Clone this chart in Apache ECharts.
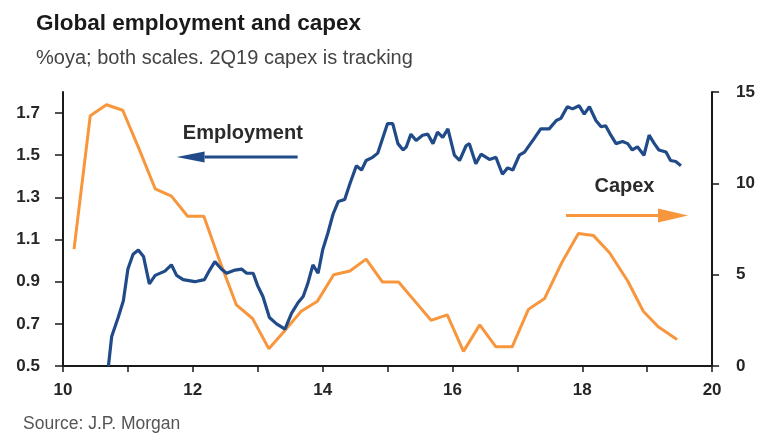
<!DOCTYPE html>
<html>
<head>
<meta charset="utf-8">
<script src="https://cdn.jsdelivr.net/npm/echarts@6/dist/echarts.min.js"></script>
<style>
  html, body { margin: 0; padding: 0; background: #fff; }
  #chart { width: 758px; height: 437px; }
</style>
</head>
<body>
<div id="chart"></div>
<script>
// x axis / tick labels
const xLabels = [10, 12, 14, 16, 18, 20]
const leftTicks = [0.5, 0.7, 0.9, 1.1, 1.3, 1.5, 1.7]
const rightTicks = [0, 5, 10, 15]

// Employment, %oya (left scale)
const empDates = [
  10.70, 10.75, 10.85, 10.93, 11.00, 11.08, 11.16, 11.24, 11.33, 11.42,
  11.57, 11.67, 11.75, 11.85, 12.03, 12.18, 12.26, 12.34, 12.44, 12.52,
  12.65, 12.75, 12.83, 12.93, 13.00, 13.08, 13.18, 13.29, 13.42, 13.52,
  13.62, 13.70, 13.77, 13.85, 13.93, 14.00, 14.08, 14.16, 14.24, 14.34,
  14.42, 14.52, 14.60, 14.67, 14.77, 14.85, 14.93, 15.00, 15.08, 15.16,
  15.24, 15.29, 15.36, 15.44, 15.54, 15.62, 15.70, 15.77, 15.85, 15.93,
  16.03, 16.11, 16.21, 16.26, 16.36, 16.44, 16.57, 16.67, 16.77, 16.85,
  16.93, 17.03, 17.11, 17.26, 17.36, 17.49, 17.60, 17.67, 17.77, 17.85,
  17.95, 18.03, 18.11, 18.21, 18.29, 18.36, 18.44, 18.52, 18.62, 18.70,
  18.77, 18.85, 18.95, 19.03, 19.11, 19.18, 19.29, 19.36, 19.44, 19.52
]
const empValues = [
  0.50, 0.64, 0.73, 0.81, 0.96, 1.03, 1.05, 1.02, 0.89, 0.93,
  0.95, 0.98, 0.93, 0.91, 0.90, 0.91, 0.955, 0.995, 0.96, 0.94,
  0.955, 0.96, 0.94, 0.94, 0.88, 0.83, 0.73, 0.70, 0.675, 0.75,
  0.80, 0.83, 0.89, 0.98, 0.94, 1.05, 1.13, 1.22, 1.28, 1.29,
  1.365, 1.45, 1.43, 1.475, 1.49, 1.51, 1.585, 1.65, 1.65, 1.555,
  1.525, 1.54, 1.60, 1.57, 1.595, 1.60, 1.555, 1.61, 1.585, 1.625,
  1.50, 1.475, 1.545, 1.555, 1.46, 1.505, 1.48, 1.49, 1.41, 1.44,
  1.43, 1.50, 1.515, 1.58, 1.625, 1.625, 1.665, 1.675, 1.73, 1.72,
  1.735, 1.695, 1.73, 1.665, 1.635, 1.64, 1.595, 1.555, 1.565, 1.555,
  1.525, 1.54, 1.50, 1.595, 1.555, 1.525, 1.515, 1.475, 1.47, 1.45
]

// Capex, %oya (right scale), quarterly
const capexDates = [
  10.17, 10.42, 10.67, 10.92, 11.17, 11.42, 11.67, 11.92, 12.17, 12.42,
  12.67, 12.92, 13.17, 13.42, 13.67, 13.92, 14.17, 14.42, 14.67, 14.92,
  15.17, 15.42, 15.67, 15.92, 16.17, 16.42, 16.67, 16.92, 17.17, 17.42,
  17.69, 17.94, 18.17, 18.42, 18.70, 18.94, 19.17, 19.46
]
const capexValues = [
  6.4, 13.7, 14.3, 14.0, 11.9, 9.7, 9.3, 8.2, 8.2, 5.7,
  3.35, 2.6, 0.95, 1.95, 3.0, 3.55, 5.0, 5.2, 5.85, 4.6,
  4.6, 3.55, 2.5, 2.8, 0.8, 2.25, 1.05, 1.05, 3.1, 3.7,
  5.7, 7.25, 7.15, 6.2, 4.65, 3.0, 2.15, 1.45
]

const BLUE = '#214b88'
const ORANGE = '#f7963d'
const AXIS = '#1a1a1a'
const FONT = 'Liberation Sans'

const chart = echarts.init(document.getElementById('chart'))

const tickLabel = { fontFamily: FONT, fontSize: 17, fontWeight: 'bold', color: '#262626' }

const option = {
  animation: false,
  title: [
    {
      text: 'Global employment and capex',
      left: 31, top: 7,
      textStyle: { fontFamily: FONT, fontSize: 22.5, fontWeight: 'bold', color: '#1a1a1a', lineHeight: 24 }
    },
    {
      text: '%oya; both scales. 2Q19 capex is tracking',
      left: 31, top: 43,
      textStyle: { fontFamily: FONT, fontSize: 20, fontWeight: 'normal', color: '#444', lineHeight: 21 }
    },
    {
      text: 'Source: J.P. Morgan',
      left: 18, top: 410,
      textStyle: { fontFamily: FONT, fontSize: 17.5, fontWeight: 'normal', color: '#555', lineHeight: 19 }
    }
  ],
  grid: { left: 63, right: 45, top: 92, bottom: 71 },
  xAxis: {
    type: 'value',
    min: 10, max: 20, interval: 1,
    splitLine: { show: false },
    axisLine: { lineStyle: { color: AXIS, width: 2 } },
    axisTick: { length: 6, lineStyle: { color: AXIS, width: 1.5 } },
    axisLabel: { customValues: xLabels, margin: 16, ...tickLabel }
  },
  yAxis: [
    {
      type: 'value',
      min: 0.5, max: 1.8, interval: 0.2,
      splitLine: { show: false },
      axisLine: { show: true, lineStyle: { color: AXIS, width: 2 } },
      axisTick: { show: true, customValues: leftTicks, length: 8, lineStyle: { color: AXIS, width: 1.5 } },
      axisLabel: {
        customValues: leftTicks,
        formatter: v => v.toFixed(1),
        margin: 23,
        ...tickLabel
      }
    },
    {
      type: 'value',
      min: 0, max: 15, interval: 5,
      position: 'right',
      splitLine: { show: false },
      axisLine: { show: true, lineStyle: { color: AXIS, width: 2 } },
      axisTick: { show: true, customValues: rightTicks, length: 7, lineStyle: { color: AXIS, width: 1.5 } },
      axisLabel: { customValues: rightTicks, margin: 24, ...tickLabel }
    }
  ],
  series: [
    {
      name: 'Capex',
      type: 'line',
      yAxisIndex: 1,
      showSymbol: false,
      lineStyle: { color: ORANGE, width: 3 },
      itemStyle: { color: ORANGE },
      data: capexDates.map((d, i) => [d, capexValues[i]]),
      z: 2
    },
    {
      name: 'Employment',
      type: 'line',
      yAxisIndex: 0,
      showSymbol: false,
      lineStyle: { color: BLUE, width: 3.2 },
      itemStyle: { color: BLUE },
      data: empDates.map((d, i) => [d, empValues[i]]),
      z: 3
    }
  ]
}

chart.setOption(option)

// annotations anchored in data space
const toPx = (yIdx, pt) => chart.convertToPixel({ xAxisIndex: 0, yAxisIndex: yIdx }, pt)

const arrow = (yIdx, from, to, color, headLen, headW) => {
  const a = toPx(yIdx, from)
  const b = toPx(yIdx, to)
  const dir = b[0] > a[0] ? 1 : -1
  const baseX = b[0] - dir * headLen
  return [
    {
      type: 'line',
      shape: { x1: a[0], y1: a[1], x2: baseX, y2: b[1] },
      style: { stroke: color, lineWidth: 3 }
    },
    {
      type: 'polygon',
      shape: { points: [[b[0], b[1]], [baseX, b[1] - headW / 2], [baseX, b[1] + headW / 2]] },
      style: { fill: color }
    }
  ]
}

const empLabel = toPx(0, [12.77, 1.604])
const capLabel = toPx(1, [18.65, 9.83])
const noteStyle = { align: 'center', verticalAlign: 'middle', fontFamily: FONT, fontSize: 20, fontWeight: 'bold', fill: '#2b2b2b' }

chart.setOption({
  graphic: [
    ...arrow(0, [13.615, 1.492], [11.75, 1.492], BLUE, 28, 11),
    ...arrow(1, [17.75, 8.24], [19.63, 8.24], ORANGE, 30, 14),
    { type: 'text', x: empLabel[0], y: empLabel[1], style: { text: 'Employment', ...noteStyle } },
    { type: 'text', x: capLabel[0], y: capLabel[1], style: { text: 'Capex', ...noteStyle } }
  ]
})
</script>
</body>
</html>
